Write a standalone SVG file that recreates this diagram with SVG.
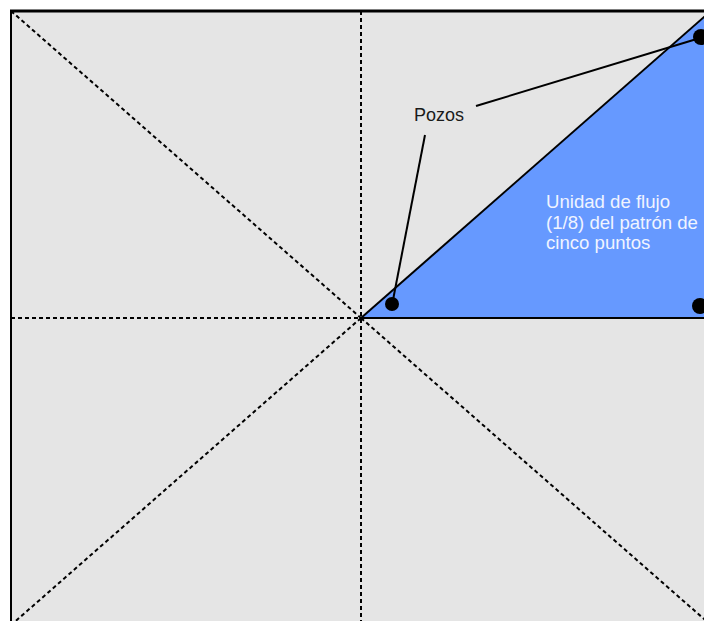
<svg xmlns="http://www.w3.org/2000/svg" width="704" height="621" viewBox="0 0 704 621">
<style>
.dash{stroke:#000;stroke-width:2;stroke-dasharray:4 3;fill:none}
.solid{stroke:#000;stroke-width:2;fill:none}
.lbl{font-family:"Liberation Sans",Arial,sans-serif;font-size:18px;fill:#1a1a1a}
.unit{font-family:"Liberation Sans",Arial,sans-serif;font-size:18.6px;fill:#f0f4ff}
</style>
<rect x="0" y="0" width="704" height="621" fill="#ffffff"/>
<g id="field">
<rect x="11" y="11" width="701" height="660" fill="#e5e5e5"/>
<polygon id="unidad" points="361,318 712,10 712,318" fill="#6699ff"/>
</g>
<g id="connectors">
<line class="dash" x1="11" y1="11" x2="361" y2="318"/>
<line class="dash" x1="361" y1="318" x2="712" y2="626"/>
<line class="dash" x1="361" y1="318" x2="10" y2="626"/>
<line class="dash" x1="361" y1="11" x2="361" y2="621"/>
<line class="dash" x1="11" y1="318" x2="361" y2="318"/>
<line class="solid" x1="361" y1="318" x2="712" y2="10"/>
<line class="solid" x1="361" y1="318" x2="704" y2="318"/>
<line class="solid" x1="476" y1="106" x2="700" y2="38"/>
<line class="solid" x1="425" y1="135" x2="393" y2="300"/>
</g>
<g id="border">
<line x1="10" y1="11" x2="704" y2="11" stroke="#000" stroke-width="3"/>
<line x1="11" y1="10" x2="11" y2="621" stroke="#000" stroke-width="2"/>
</g>
<g id="pozos">
<circle cx="701" cy="37" r="8" fill="#000"/>
<circle cx="392" cy="304" r="7" fill="#000"/>
<circle cx="700" cy="306" r="8" fill="#000"/>
<text class="lbl" x="414" y="121">Pozos</text>
</g>
<g id="unidad-label">
<text class="unit" x="546" y="207.5">Unidad de flujo</text>
<text class="unit" x="546" y="228.5">(1/8) del patrón de</text>
<text class="unit" x="546" y="249">cinco puntos</text>
</g>
</svg>
